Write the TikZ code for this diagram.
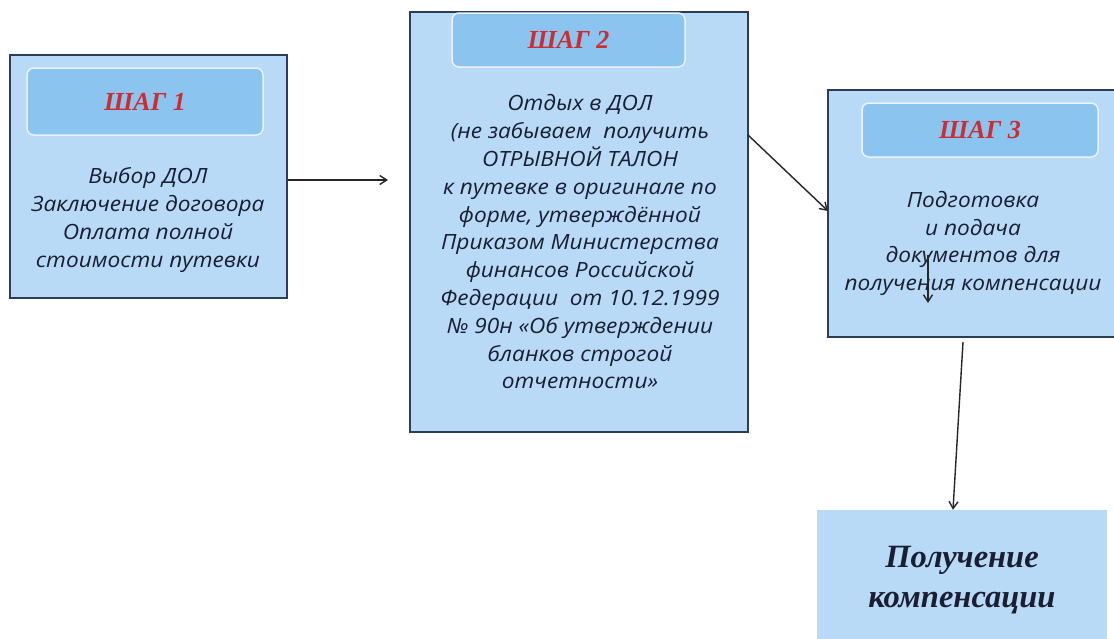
\documentclass[tikz,border=0pt]{standalone}
\usepackage{fontspec}
\setmainfont{Liberation Serif}
\newfontfamily\bodyfont[FakeStretch=1.08]{Open Sans}
\usetikzlibrary{arrows.meta}
\definecolor{boxfill}{RGB}{184,218,247}
\definecolor{hdrfill}{RGB}{140,196,240}
\definecolor{boxline}{RGB}{45,60,90}
\definecolor{steptxt}{RGB}{205,45,50}
\definecolor{darktxt}{RGB}{25,30,50}
\tikzset{
  x=1pt,y=-1pt,
  stepbox/.style={draw=boxline,line width=1.2pt,fill=boxfill,minimum width=#1,inner sep=0pt},
  hdrbox/.style={draw=white!80!hdrfill,line width=1.5pt,fill=hdrfill,rounded corners=7pt,inner sep=0pt,
     font=\fontsize{26}{28}\selectfont\bfseries\itshape,text=steptxt},
  bodytxt/.style={align=center,inner sep=0pt,text=darktxt,font=\bodyfont\itshape\fontsize{21}{27.8}\selectfont},
  conn/.style={-{Straight Barb[length=7pt,width=9pt]},line width=1.4pt,draw=black!85},
  resbox/.style={fill=boxfill,inner sep=0pt,align=center,text=darktxt,
     font=\fontsize{32.5}{40}\selectfont\bfseries\itshape}
}
\begin{document}
\begin{tikzpicture}
\useasboundingbox[fill=white] (0,0) rectangle (1114,638);
% step 1
\node[stepbox=277pt,minimum height=243pt] (b1) at (148.5,176.5) {};
\node[hdrbox,minimum width=236pt,minimum height=67pt] (h1) at (145,101.5) {ШАГ 1};
\node[bodytxt] (t1) at (148,220) {Выбор ДОЛ\\Заключение договора\\Оплата полной\\стоимости путевки};
% step 2
\node[stepbox=338pt,minimum height=420pt] (b2) at (579,222) {};
\node[hdrbox,minimum width=233pt,minimum height=54pt] (h2) at (568.5,40) {ШАГ 2};
\node[bodytxt] (t2) at (580,242) {Отдых в ДОЛ\\ (не забываем\ \ получить\\ОТРЫВНОЙ ТАЛОН\\к путевке в оригинале по\\форме, утверждённой\\Приказом Министерства\\финансов Российской\\Федерации\ \ от 10.12.1999\\№ 90н «Об утверждении\\бланков строгой\\отчетности»};
% step 3
\node[stepbox=300pt,minimum height=247pt] (b3) at (978,213.5) {};
\node[hdrbox,minimum width=236pt,minimum height=54pt] (h3) at (980,130) {ШАГ 3};
\node[bodytxt] (t3) at (973,243.5) {Подготовка\\и подача\\документов для\\получения компенсации};
% result
\node[resbox,minimum width=290pt,minimum height=140pt] (b4) at (962,580) {Получение\\компенсации};
% connectors
\coordinate (a1) at (388,180);
\draw[conn] (b1.east |- a1) -- (a1);
\coordinate (s2) at (748,135);
\coordinate (e2) at (828,211);
\draw[conn] (s2) -- (e2);
\coordinate (s3) at (928,255);
\coordinate (e3) at (928,303);
\draw[conn] (s3) -- (e3);
\coordinate (s4) at (963,342);
\draw[conn] (s4) -- (b4.north -| 953,0);
\end{tikzpicture}
\end{document}
